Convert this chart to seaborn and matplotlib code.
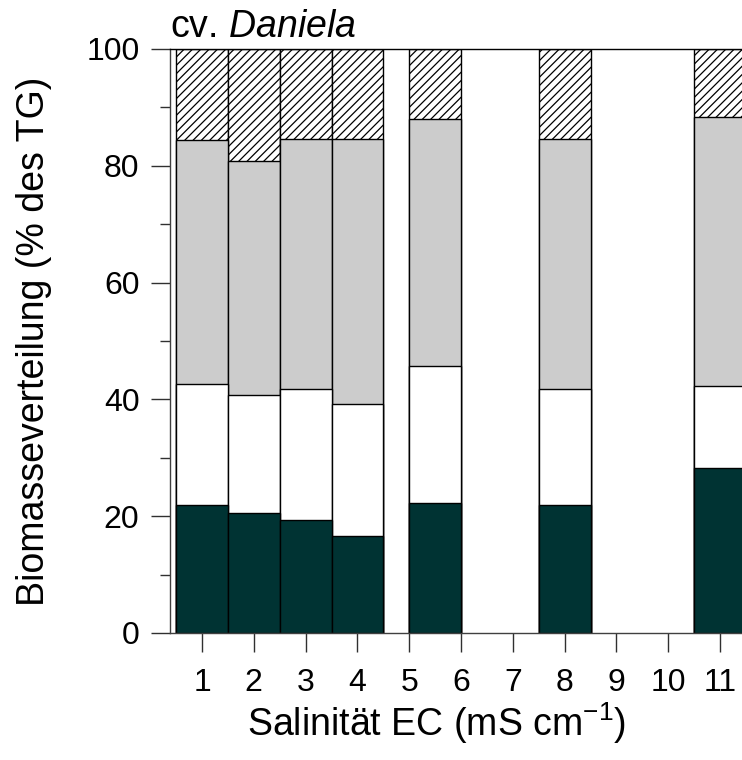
import matplotlib
matplotlib.use("Agg")
import matplotlib.pyplot as plt
import seaborn as sns
import numpy as np

# ---- data (percent of dry weight) ----
positions = [1, 2, 3, 4, 5.5, 8, 11]
seg_dark = [22.0, 20.5, 19.3, 16.6, 22.2, 22.0, 28.3]
seg_white = [20.6, 20.25, 22.4, 22.6, 23.5, 19.8, 14.0]
seg_gray = [41.8, 40.0, 42.9, 45.4, 42.3, 42.8, 46.1]
seg_hatch = [15.6, 19.3, 15.4, 15.4, 12.0, 15.4, 11.6]
xticks = list(range(1, 12))
yticks = [0, 20, 40, 60, 80, 100]
yminor = [10, 30, 50, 70, 90]

sns.set_style("ticks")
plt.rcParams["font.family"] = ["Liberation Sans", "DejaVu Sans"]
plt.rcParams["mathtext.fontset"] = "custom"
plt.rcParams["mathtext.rm"] = "Liberation Sans"
plt.rcParams["mathtext.it"] = "Liberation Sans:italic"
plt.rcParams["hatch.linewidth"] = 0.9
plt.rcParams["text.color"] = "black"
plt.rcParams["axes.labelcolor"] = "black"
plt.rcParams["xtick.color"] = "#303030"
plt.rcParams["ytick.color"] = "#303030"
plt.rcParams["xtick.labelcolor"] = "black"
plt.rcParams["ytick.labelcolor"] = "black"

fig = plt.figure(figsize=(7.42, 7.60), dpi=100)
ax = fig.add_axes([170 / 742, 1 - 633 / 760, 572 / 742, 584 / 760])

d = np.array(seg_dark)
w = np.array(seg_white)
g = np.array(seg_gray)
h = np.array(seg_hatch)
layers = [
    (d + w + g + h, "white", "////"),
    (d + w + g, "#cccccc", ""),
    (d + w, "white", ""),
    (d, "#003333", ""),
]
for vals, col, hatch in layers:
    n0 = len(ax.patches)
    sns.barplot(x=positions, y=list(vals), native_scale=True, width=1,
                color=col, saturation=1, edgecolor="black", linewidth=1,
                errorbar=None, ax=ax)
    for p in ax.patches[n0:]:
        p.set_hatch(hatch)

ax.set_xlim(1 - 32 / 51.8, 11 + 22 / 51.8)
ax.set_ylim(0, 100)
ax.set_xticks(xticks)
ax.set_xticklabels([str(t) for t in xticks])
ax.set_yticks(yticks)
ax.set_yticks(yminor, minor=True)
ax.tick_params(axis="both", which="major", length=14, width=1,
               direction="out", labelsize=23, pad=8)
ax.tick_params(axis="x", which="major", pad=11)
ax.tick_params(axis="y", which="minor", length=7, width=1, direction="out")

ax.spines["right"].set_visible(False)
ax.spines["top"].set_color("black")
for s in ["left", "bottom"]:
    ax.spines[s].set_color("#404040")
for s in ["left", "bottom", "top"]:
    ax.spines[s].set_linewidth(1)

ax.set_ylabel("Biomasseverteilung (% des TG)", fontsize=27)
ax.set_xlabel("Salinität EC (mS cm$^{-1}$)", fontsize=27)
ax.yaxis.set_label_coords((52 - 170) / 572, 0.5)
ax.xaxis.set_label_coords((437 - 170) / 572, (633 - 700) / 584)

ax.text(0.0, 1 + 12 / 584, "cv. $\\mathit{Daniela}$", transform=ax.transAxes,
        ha="left", va="baseline", fontsize=27)

fig.savefig("out.png", dpi=100)
